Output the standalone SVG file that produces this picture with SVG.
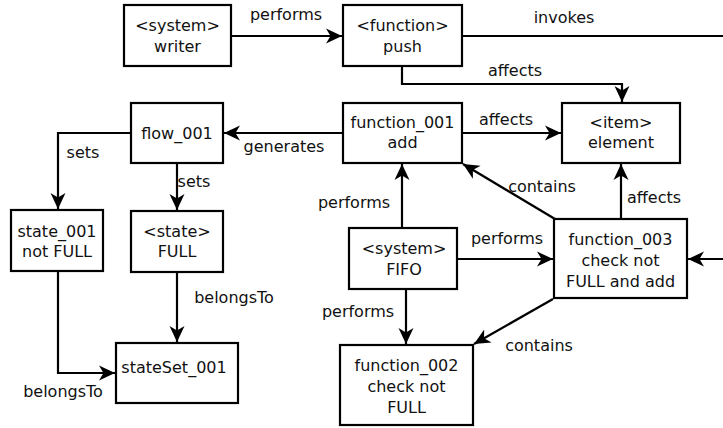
<svg xmlns="http://www.w3.org/2000/svg" width="723" height="428" viewBox="0 0 723 428">
<style>
.box{fill:#fff;stroke:#000;stroke-width:2.2}
.t{font-family:"DejaVu Sans",sans-serif;font-size:16px;fill:#111;text-anchor:middle}
.l{font-family:"DejaVu Sans",sans-serif;font-size:16px;fill:#111;text-anchor:middle}
.c{fill:none;stroke:#000;stroke-width:2.2}
</style>
<defs>
<marker id="a" markerUnits="userSpaceOnUse" markerWidth="20" markerHeight="20" refX="16" refY="8" orient="auto" viewBox="0 0 20 20">
<path d="M0,0.5 L16,8 L0,15.5 L4.5,8 z" fill="#000"/>
</marker>
</defs>
<g id="connectors">
<path class="c" d="M231,36 H342" marker-end="url(#a)"/>
<path class="c" d="M462,36 H723"/>
<path class="c" d="M402,66 V84 H622 V102" marker-end="url(#a)"/>
<path class="c" d="M462,133 H561" marker-end="url(#a)"/>
<path class="c" d="M343,133 H224" marker-end="url(#a)"/>
<path class="c" d="M131,133 H58 V209" marker-end="url(#a)"/>
<path class="c" d="M177,163 V210" marker-end="url(#a)"/>
<path class="c" d="M58,271 V373 H115" marker-end="url(#a)"/>
<path class="c" d="M177,272 V342" marker-end="url(#a)"/>
<path class="c" d="M402,228 V164" marker-end="url(#a)"/>
<path class="c" d="M457,259 H553" marker-end="url(#a)"/>
<path class="c" d="M406,289 V344" marker-end="url(#a)"/>
<path class="c" d="M555,219 L463,164" marker-end="url(#a)"/>
<path class="c" d="M621,219 V164" marker-end="url(#a)"/>
<path class="c" d="M553,299 L474,344" marker-end="url(#a)"/>
<path class="c" d="M723,259 H688" marker-end="url(#a)"/>
<text class="l" x="286" y="20">performs</text>
<text class="l" x="564" y="23">invokes</text>
<text class="l" x="515" y="76">affects</text>
<text class="l" x="506" y="125">affects</text>
<text class="l" x="284" y="152">generates</text>
<text class="l" x="83" y="158">sets</text>
<text class="l" x="194" y="187">sets</text>
<text class="l" x="542" y="192">contains</text>
<text class="l" x="654" y="203">affects</text>
<text class="l" x="354" y="208">performs</text>
<text class="l" x="507" y="244">performs</text>
<text class="l" x="234" y="303">belongsTo</text>
<text class="l" x="358" y="317">performs</text>
<text class="l" x="539" y="351">contains</text>
<text class="l" x="63" y="397">belongsTo</text>
</g>
<g id="writer"><rect class="box" x="124" y="5" width="107" height="61"/><text class="t" x="177.5" y="31">&lt;system&gt;</text><text class="t" x="177.5" y="52">writer</text></g>
<g id="push"><rect class="box" x="343" y="5" width="119" height="61"/><text class="t" x="402.5" y="31">&lt;function&gt;</text><text class="t" x="402.5" y="52">push</text></g>
<g id="function_001"><rect class="box" x="343" y="103" width="119" height="60"/><text class="t" x="402.5" y="128">function_001</text><text class="t" x="402.5" y="148">add</text></g>
<g id="element"><rect class="box" x="562" y="103" width="118" height="60"/><text class="t" x="621" y="128">&lt;item&gt;</text><text class="t" x="621" y="148">element</text></g>
<g id="flow_001"><rect class="box" x="131" y="103" width="92" height="60"/><text class="t" x="177" y="139">flow_001</text></g>
<g id="state_001"><rect class="box" x="11" y="210" width="92" height="61"/><text class="t" x="57" y="237">state_001</text><text class="t" x="57" y="257">not FULL</text></g>
<g id="FULL"><rect class="box" x="131" y="211" width="92" height="61"/><text class="t" x="177" y="237">&lt;state&gt;</text><text class="t" x="177" y="257">FULL</text></g>
<g id="stateSet_001"><rect class="box" x="116" y="343" width="122" height="60"/><text class="t" x="174" y="373">stateSet_001</text></g>
<g id="FIFO"><rect class="box" x="349" y="228" width="108" height="61"/><text class="t" x="404" y="254">&lt;system&gt;</text><text class="t" x="404" y="275">FIFO</text></g>
<g id="function_003"><rect class="box" x="554" y="219" width="133" height="79"/><text class="t" x="620.5" y="245">function_003</text><text class="t" x="620.5" y="266">check not</text><text class="t" x="620.5" y="287">FULL and add</text></g>
<g id="function_002"><rect class="box" x="340" y="345" width="133" height="80"/><text class="t" x="406.5" y="371">function_002</text><text class="t" x="406.5" y="392">check not</text><text class="t" x="406.5" y="413">FULL</text></g>
</svg>
